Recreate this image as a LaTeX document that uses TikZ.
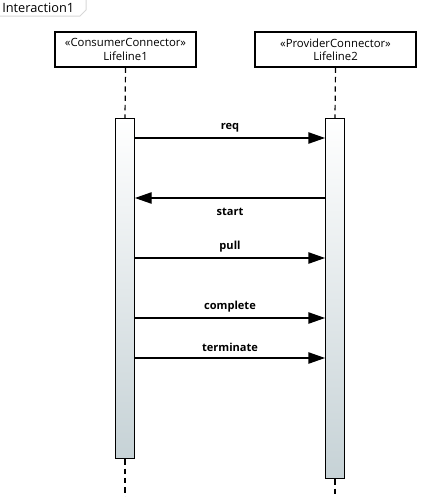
\documentclass[tikz,border=0pt]{standalone}
\usepackage{fontspec}
\setmainfont{Open Sans}
\usetikzlibrary{arrows.meta}
\definecolor{framegray}{RGB}{215,215,215}
\definecolor{barbottom}{RGB}{198,210,214}
\begin{document}
\begin{tikzpicture}[x=0.75pt,y=-0.75pt]
  \tikzstyle{head}=[rectangle,draw,line width=0.9pt,minimum width=#1,minimum height=26.25pt,
                    inner sep=0,align=center,font=\fontsize{8.5}{10}\selectfont]
  \tikzstyle{bar}=[rectangle,draw,line width=0.9pt,minimum width=14pt,inner sep=0,
                   top color=white,bottom color=barbottom]
  \tikzstyle{life}=[line width=0.9pt,dash pattern=on 4pt off 3pt]
  \tikzstyle{msg}=[line width=0.9pt,-{Triangle[length=12.5pt,width=8.5pt]}]
  \tikzstyle{lbl}=[font=\fontsize{8.3}{10}\selectfont\bfseries,inner sep=0]
  \useasboundingbox (0,0) rectangle (426,497);
  % frame tab
  \node(frame)[anchor=west,inner sep=0,font=\fontsize{9.6}{11}\selectfont] at (2,8) {Interaction1};
  \draw[framegray,line width=0.75pt] (0,16) -- (80,16) -- (86,10) -- (86,0);
  % lifeline heads
  \node(l1)[head=105.75pt] at (125.5,49.5) {«ConsumerConnector»\\Lifeline1};
  \node(l2)[head=120.75pt] at (335.5,49.5) {«ProviderConnector»\\Lifeline2};
  % activations
  \node(a1)[bar,minimum height=255pt,anchor=north] at (125,118) {};
  \node(a2)[bar,minimum height=270pt,anchor=north] at (335,118) {};
  \coordinate(e1) at (125,497);
  \coordinate(e2) at (335,497);
  \draw[life] (l1.south) -- (a1.north);
  \draw[life] (a1.south) -- (e1);
  \draw[life] (l2.south) -- (a2.north);
  \draw[life] (a2.south) -- (e2);
  % messages
  \draw[msg] (a1.east |- 0,138) -- node(req)[lbl,above=4pt]{req} (a2.west |- 0,138);
  \draw[msg] (a2.west |- 0,198) -- node(start)[lbl,below=7pt]{start} (a1.east |- 0,198);
  \draw[msg] (a1.east |- 0,258) -- node(pull)[lbl,above=4pt]{pull} (a2.west |- 0,258);
  \draw[msg] (a1.east |- 0,318) -- node(complete)[lbl,above=4pt]{complete} (a2.west |- 0,318);
  \draw[msg] (a1.east |- 0,358) -- node(terminate)[lbl,above=4pt]{terminate} (a2.west |- 0,358);
\end{tikzpicture}
\end{document}
